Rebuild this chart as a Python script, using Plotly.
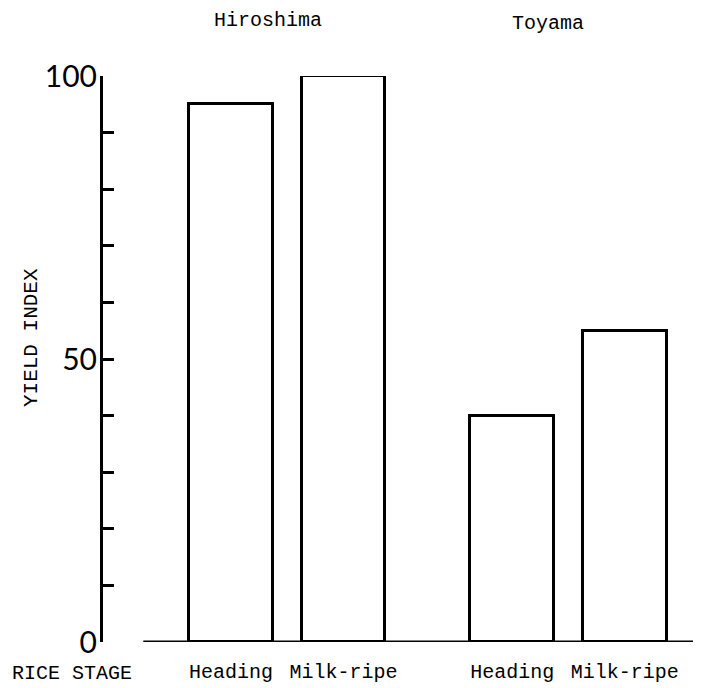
import plotly.graph_objects as go

# Data
regions = ["Hiroshima", "Toyama"]
stages = ["Heading", "Milk-ripe", "Heading", "Milk-ripe"]
bar_pos = [0.0, 1.0, 2.5, 3.5]
yield_index = [95, 100, 40, 55]
ytick_vals = [0, 10, 20, 30, 40, 50, 60, 70, 80, 90, 100]
ytick_text = ["0", "", "", "", "", "50", "", "", "", "", "100"]

mono = "Liberation Mono, Courier New, monospace"

fig = go.Figure()
fig.add_trace(go.Bar(
    x=bar_pos, y=yield_index, width=0.745,
    marker=dict(color="white", line=dict(color="black", width=3)),
    showlegend=False, hoverinfo="skip",
))

# baseline
fig.add_shape(type="line", xref="x", yref="y", x0=-0.78, x1=4.2, y0=0, y1=0,
              line=dict(color="black", width=3))

fig.update_layout(
    width=693, height=680,
    margin=dict(l=95, r=0, t=68, b=46),
    paper_bgcolor="white", plot_bgcolor="white",
    bargap=0,
    xaxis=dict(range=[-1.138, 4.178], showgrid=False, zeroline=False, showline=False,
               tickvals=bar_pos, ticktext=stages, ticks="",
               tickfont=dict(family=mono, size=20, color="black"),
               ticklabelstandoff=15),
    yaxis=dict(range=[0, 100], showgrid=False, zeroline=False,
               showline=True, linecolor="black", linewidth=3,
               ticks="inside", ticklen=11, tickwidth=3, tickcolor="black",
               tickvals=ytick_vals, ticktext=ytick_text,
               tickfont=dict(family="Lato, DejaVu Sans, sans-serif", size=30, color="black"),
               ticklabelstandoff=-3),
)

fig.add_annotation(text="Hiroshima", xref="x", yref="paper", x=0.33, y=1.0,
                   yshift=56, yanchor="middle", xanchor="center", showarrow=False,
                   font=dict(family=mono, size=20, color="black"))
fig.add_annotation(text="Toyama", xref="x", yref="paper", x=2.82, y=1.0,
                   yshift=53, yanchor="middle", xanchor="center", showarrow=False,
                   font=dict(family=mono, size=20, color="black"))
fig.add_annotation(text="RICE STAGE", xref="paper", yref="paper", x=-0.1555, y=0,
                   yshift=-31, xanchor="left", yanchor="middle", showarrow=False,
                   font=dict(family=mono, size=20, color="black"))
fig.add_annotation(text="YIELD INDEX", xref="paper", yref="paper", x=-0.1204, y=0.537,
                   xanchor="center", yanchor="middle",
                   textangle=-90, showarrow=False,
                   font=dict(family=mono, size=21, color="black"))

fig.write_html("out.html")
